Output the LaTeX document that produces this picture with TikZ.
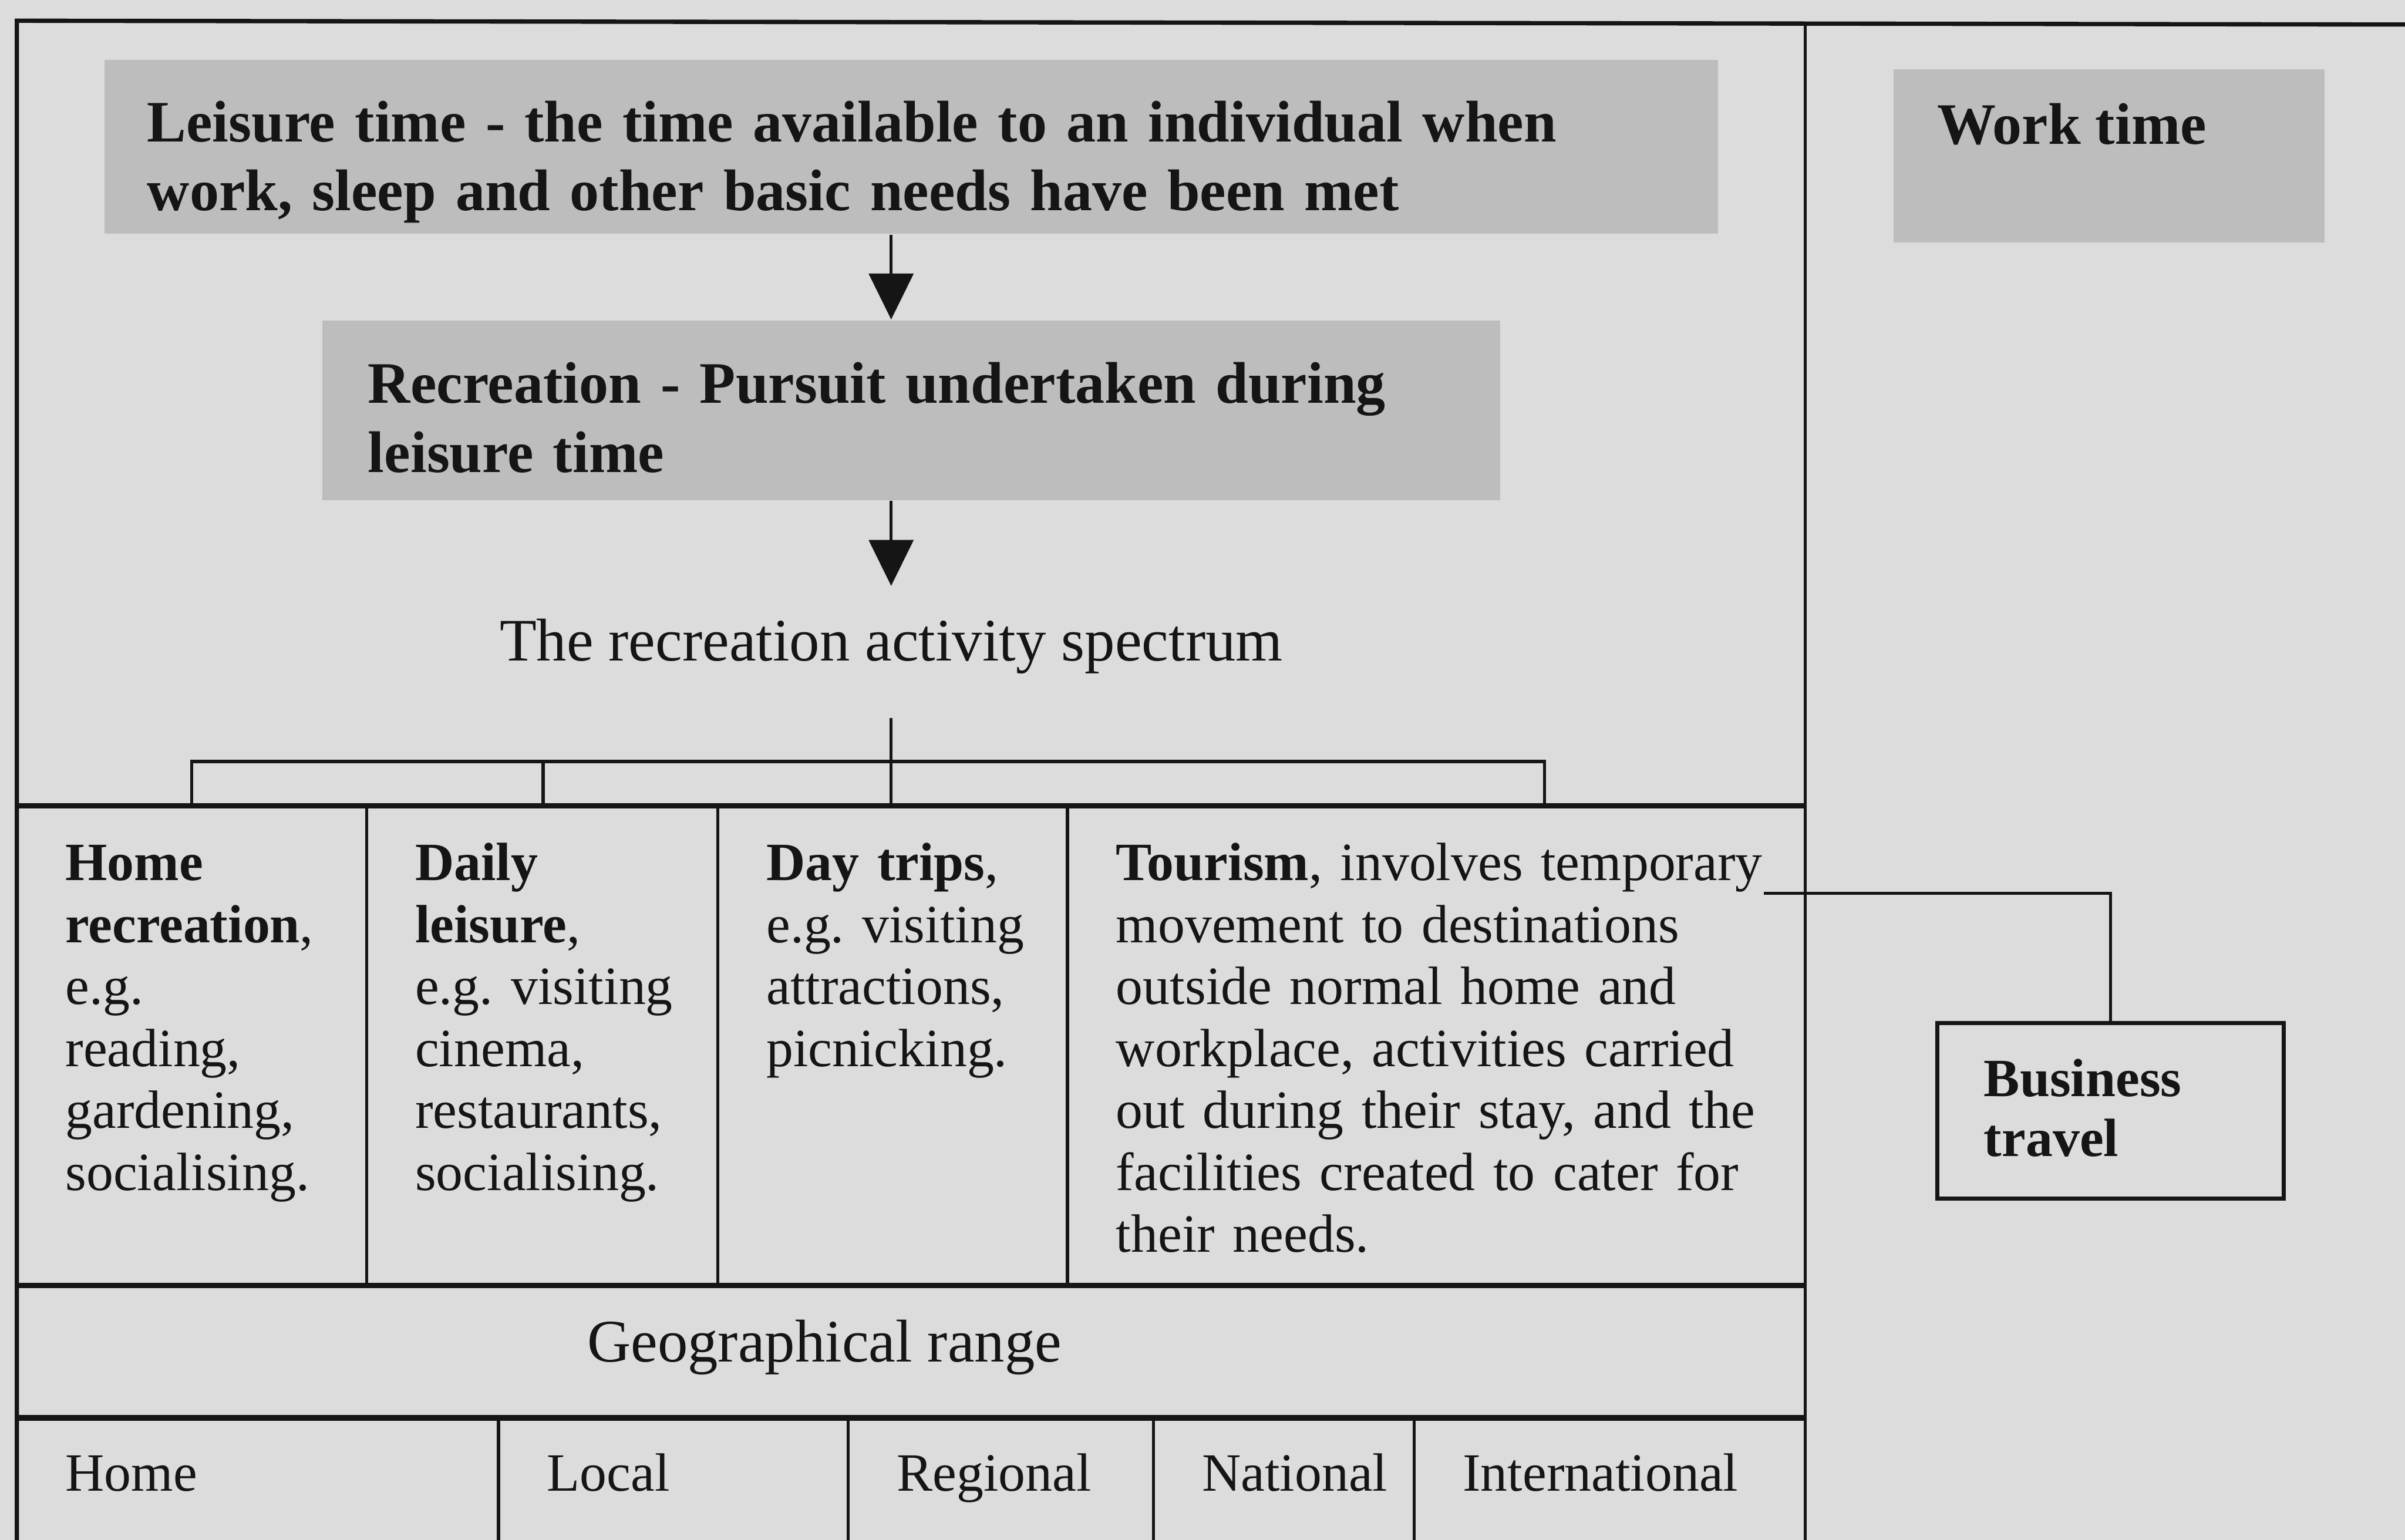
\documentclass[tikz,border=0pt]{standalone}
\usepackage{fontspec}
\setmainfont{Liberation Serif}
\usetikzlibrary{arrows.meta,positioning}
\definecolor{PaperGray}{HTML}{DCDCDC}
\definecolor{ShadeGray}{HTML}{BDBDBD}
\definecolor{InkBlack}{HTML}{151515}

\begin{document}
\frenchspacing
\begin{tikzpicture}[
  >={Triangle[length=0.30cm,width=0.29cm]},
  % shaded heading boxes (leisure, recreation, work)
  timebox/.style={fill=ShadeGray, inner sep=0pt},
  % framed box on the right
  bizbox/.style={draw=InkBlack, line width=0.7pt, inner sep=0pt},
  % bold heading text
  headtxt/.style={anchor=base west, inner sep=0pt, align=left,
                  text=InkBlack, font=\fontsize{10.9}{12.8}\selectfont\bfseries},
  % table cell text
  celltxt/.style={anchor=base west, inner sep=0pt, align=left,
                  text=InkBlack, font=\fontsize{10}{11.5}\selectfont},
  % plain larger text
  bigtxt/.style={anchor=base, text=InkBlack, font=\fontsize{11.2}{12.8}\selectfont},
  % lines
  rule/.style={draw=InkBlack, line width=0.6pt},
  rowline/.style={draw=InkBlack, line width=1.0pt},
  arr/.style={->, draw=InkBlack, line width=0.6pt},
]

%% ── Page ──────────────────────────────────────────────────────────────────
\fill[PaperGray] (0,0) rectangle (15.68,-10.04);
\useasboundingbox (0,0) rectangle (15.68,-10.04);

%% ── Table edges and rows ─────────────────────────────────────────────────
\def\xL{0.11}    % left edge
\def\xD{11.77}   % divider to work-time column
\def\yA{-5.255}  % activity row top
\def\yB{-8.38}   % geographical range top
\def\yC{-9.245}  % range row top
\def\yE{-10.04}  % bottom of page

\draw[rule, line width=0.8pt] (\xL,\yE) -- (\xL,-0.135) -- (15.68,-0.16);
\draw[rule] (\xD,-0.15) -- (\xD,\yE);
\foreach \y in {\yA,\yB,\yC}
  \draw[rowline] (\xL,\y) -- (\xD,\y);
\foreach \x in {2.39,4.68,6.96}
  \draw[rule] (\x,\yA) -- (\x,\yB);
\foreach \x in {3.25,5.53,7.52,9.22}
  \draw[rule] (\x,\yC) -- (\x,\yE);

%% ── Heading boxes ────────────────────────────────────────────────────────
\node[timebox, minimum width=10.52cm, minimum height=1.135cm] (leisure) at (5.94,-0.9575) {};
\node[headtxt, text width=10cm] (leisureTxt) at ([shift={(0.28,-0.54)}]leisure.north west)
  {Leisure time - the time available to an individual when\\work, sleep and other basic needs have been met};

\node[timebox, minimum width=7.68cm, minimum height=1.17cm] (recreation) at (5.94,-2.675) {};
\node[headtxt, text width=7cm] (recreationTxt) at ([shift={(0.30,-0.545)}]recreation.north west)
  {Recreation - Pursuit undertaken during\\leisure time};

\node[timebox, minimum width=2.81cm, minimum height=1.13cm] (work) at (13.75,-1.015) {};
\node[headtxt] (workTxt) at ([shift={(0.285,-0.495)}]work.north west) {Work time};

\node[bigtxt, inner xsep=0pt, inner ysep=0.21cm] (spectrum) at (5.81,-4.31)
  {The recreation activity spectrum};

%% ── Arrows down the spine ────────────────────────────────────────────────
\draw[arr] (leisure.south -| spectrum) -- (recreation.north -| spectrum);
\draw[arr] (recreation.south -| spectrum) -- (spectrum.north);

%% ── Activity cells ───────────────────────────────────────────────────────
\node[celltxt, text width=2cm] (home) at (0.42,-5.74)
  {\textbf{Home}\\\textbf{recreation},\\e.g.\\reading,\\gardening,\\socialising.};
\node[celltxt, text width=2cm] (daily) at (2.70,-5.74)
  {\textbf{Daily}\\\textbf{leisure},\\e.g. visiting\\cinema,\\restaurants,\\socialising.};
\node[celltxt, text width=2cm] (daytrips) at (4.99,-5.74)
  {\textbf{Day trips},\\e.g. visiting\\attractions,\\picnicking.};
\node[celltxt, text width=4.4cm] (tourism) at (7.27,-5.74)
  {\textbf{Tourism}, involves temporary\\movement to destinations\\outside normal home and\\workplace, activities carried\\out during their stay, and the\\facilities created to cater for\\their needs.};

%% ── Fork from the spectrum to the cells ──────────────────────────────────
\coordinate (stem) at (5.81,-4.68);
\coordinate (fHome) at (1.25,\yA);
\coordinate (fDaily) at (3.54,\yA);
\coordinate (fDay) at (5.81,\yA);
\coordinate (fTour) at (10.07,\yA);
\draw[rule] (stem) -- (fDay);
\draw[rule] (fHome) -- ++(0,0.29) -| (fTour);
\draw[rule] (fDaily) -- ++(0,0.29);

%% ── Business travel ──────────────────────────────────────────────────────
\node[bizbox, minimum width=2.26cm, minimum height=1.145cm] (biz) at (13.76,-7.2425) {};
\node[headtxt, text width=2cm, font=\fontsize{10}{11.1}\selectfont\bfseries] (bizTxt)
  at ([shift={(0.31,-0.49)}]biz.north west) {Business\\travel};
\coordinate (tourEnd) at (11.50,-5.825);
\draw[rule] (tourEnd) -| (biz.north);

%% ── Geographical range ───────────────────────────────────────────────────
\node[bigtxt] (range) at (5.375,-8.88) {Geographical range};
\foreach \x/\n/\t in {0.42/rHome/Home,3.56/rLocal/Local,5.84/rRegion/Regional,
                      7.83/rNation/National,9.53/rIntl/International}
  \node[celltxt] (\n) at (\x,-9.72) {\t};

\end{tikzpicture}
\end{document}
